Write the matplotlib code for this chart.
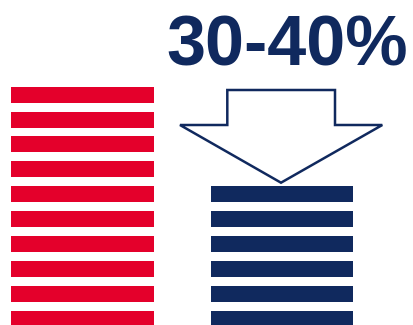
import numpy as np
import matplotlib
matplotlib.use("Agg")
import matplotlib.pyplot as plt
import matplotlib.patches as mpatches

# data
categories = ["before", "after"]
stripe_counts = [10, 6]
reduction_label = "30-40%"

RED = "#E4002B"
NAVY = "#10295E"

W, H = 413, 325
fig = plt.figure(figsize=(W / 100, H / 100), dpi=100)
ax = fig.add_axes([0, 0, 1, 1])
ax.set_xlim(0, W)
ax.set_ylim(H, 0)
ax.axis("off")

# stripes stacked upward from the bottom row
pitch = 24.9
bottom_center = 318.7
bar_h = 16
columns = [(11, 143, RED), (210.7, 142, NAVY)]
for (left, width, color), n in zip(columns, stripe_counts):
    rows = np.arange(n)
    ax.barh(bottom_center - pitch * rows, width, height=bar_h, left=left,
            color=color, linewidth=0)

# outline arrow pointing down onto the smaller stack
arrow = mpatches.Polygon(
    [(227.3, 90), (335, 90), (335, 125), (382.3, 125), (281, 182.7),
     (180, 125), (227.3, 125)],
    closed=True, facecolor="white", edgecolor=NAVY, linewidth=1.8,
    joinstyle="miter")
ax.add_patch(arrow)

ax.text(166, 65, reduction_label, color=NAVY, fontsize=50.5,
        family="Liberation Sans", fontweight="bold",
        ha="left", va="baseline")

fig.savefig("out.png", dpi=100)
